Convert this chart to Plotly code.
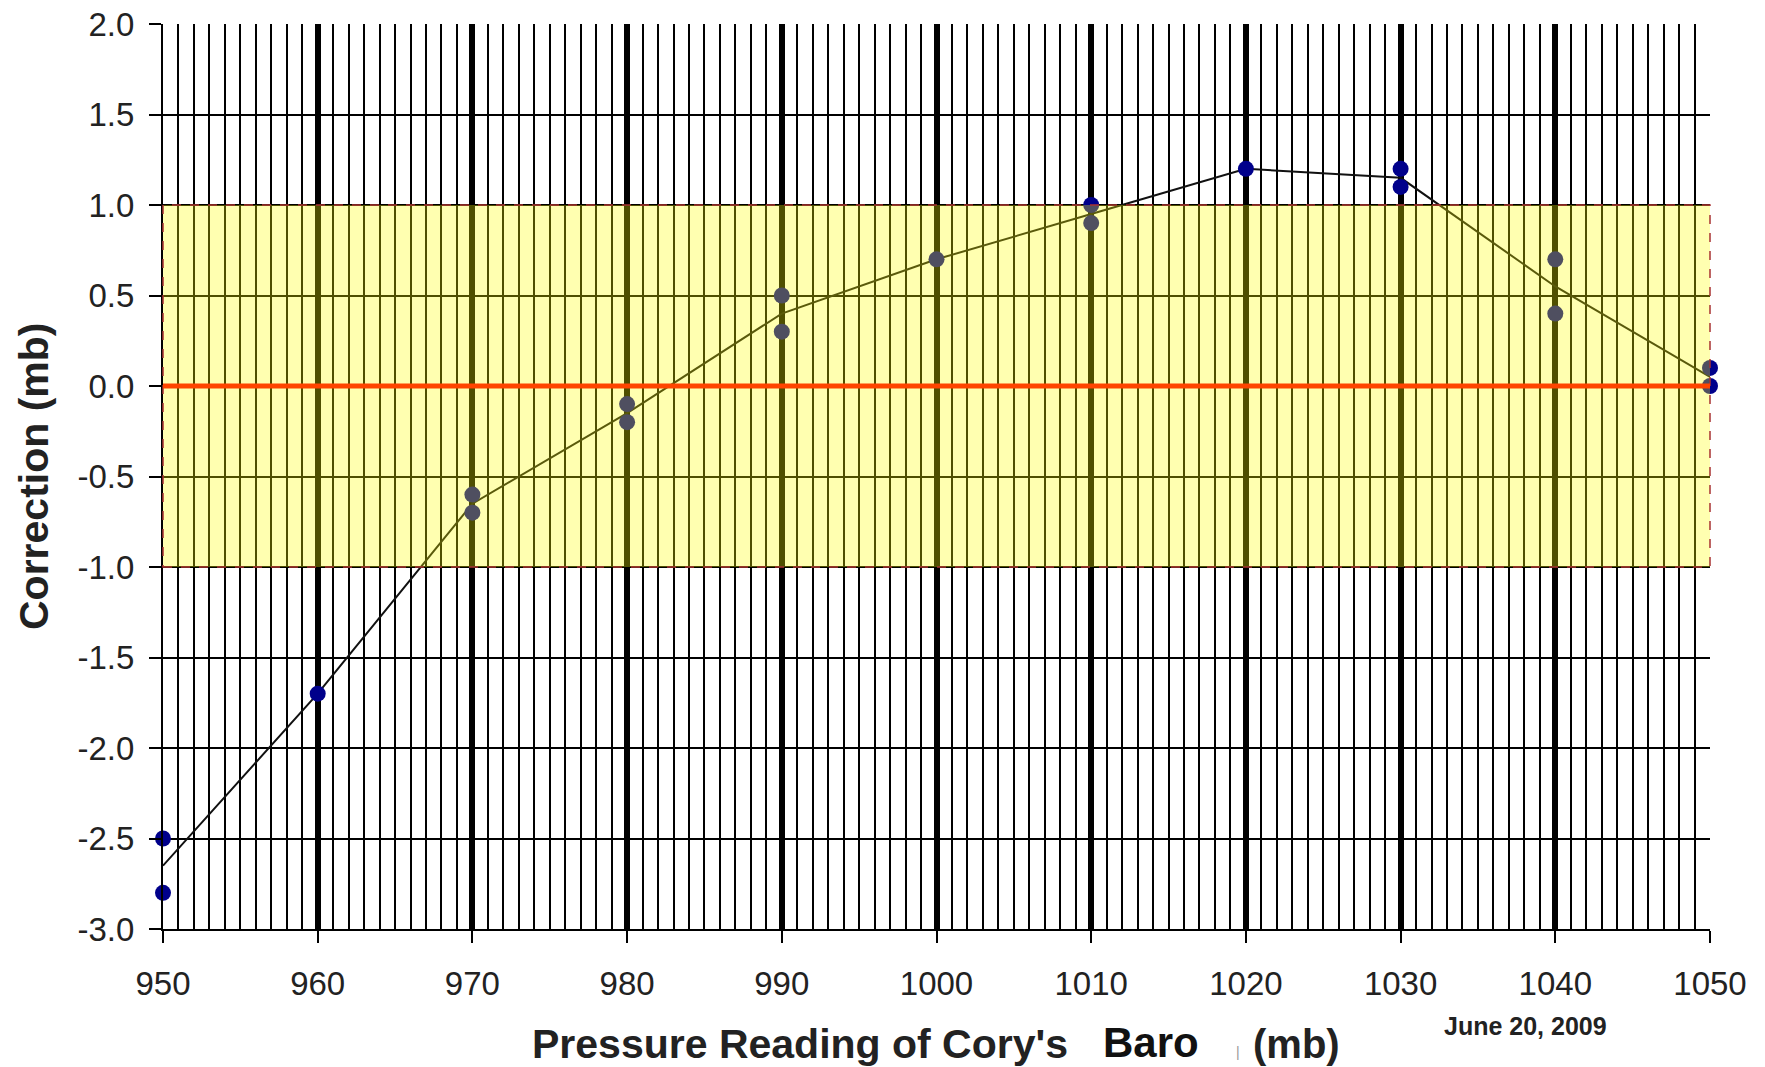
import plotly.graph_objects as go

# Data
pressure_pts = [950, 950, 960, 970, 970, 980, 980, 990, 990, 1000, 1010, 1010,
                1020, 1030, 1030, 1040, 1040, 1050, 1050]
correction_pts = [-2.5, -2.8, -1.7, -0.6, -0.7, -0.1, -0.2, 0.5, 0.3, 0.7, 1.0, 0.9,
                  1.2, 1.2, 1.1, 0.7, 0.4, 0.1, 0.0]

pressure_line = [950, 960, 970, 980, 990, 1000, 1010, 1020, 1030, 1040, 1050]
correction_line = [-2.65, -1.7, -0.65, -0.15, 0.4, 0.7, 0.95, 1.2, 1.15, 0.55, 0.05]

x_ticks = list(range(950, 1051, 10))
y_ticks = [-3.0, -2.5, -2.0, -1.5, -1.0, -0.5, 0.0, 0.5, 1.0, 1.5, 2.0]
y_ticktext = ["%.1f" % v for v in y_ticks]
band_low, band_high = -1.0, 1.0

FONT = "Liberation Sans, Arial, sans-serif"

# page is offset by the default 8px body margin
OFF = 8
W, H = 1765 - 2 * OFF, 1067 - OFF
# plot area in page pixels
PL, PR, PT, PB = 163, 1710, 24, 929
L, T = PL - OFF, PT - OFF
R = W - (PR - OFF)
B = H - (PB - OFF)
PW = PR - PL
PH = PB - PT


def px_x(px):
    return (px - PL) / PW


def px_y(py):
    return (PB - py) / PH


fig = go.Figure()
fig.add_trace(go.Scatter(x=pressure_line, y=correction_line, mode="lines",
                         line=dict(color="#111111", width=2),
                         hoverinfo="skip", showlegend=False, cliponaxis=False))
fig.add_trace(go.Scatter(x=pressure_pts, y=correction_pts, mode="markers",
                         marker=dict(color="#00008B", size=16, symbol="circle"),
                         showlegend=False, cliponaxis=False))

# tolerance band (semi-transparent, above grid and data)
fig.add_shape(type="rect", xref="paper", yref="y", x0=0, x1=1, y0=band_low, y1=band_high,
              fillcolor="rgba(255,255,0,0.31)", layer="above",
              line=dict(color="#a83232", width=1.5, dash="dash"))
# zero reference line
fig.add_shape(type="line", xref="paper", yref="y", x0=0, x1=1, y0=0, y1=0,
              layer="above", line=dict(color="#FF4500", width=5))

fig.update_layout(
    width=W, height=H,
    margin=dict(l=L, r=R, t=T, b=B),
    paper_bgcolor="white", plot_bgcolor="white",
    font=dict(family=FONT, color="#222222"),
    showlegend=False,
)
fig.update_xaxes(
    range=[950, 1050], tickvals=x_ticks, ticktext=[str(v) for v in x_ticks],
    showgrid=True, gridcolor="black", gridwidth=6,
    minor=dict(dtick=1, showgrid=True, gridcolor="black", gridwidth=2),
    showline=True, linecolor="black", linewidth=2,
    ticks="outside", ticklen=12, tickwidth=2, tickcolor="black",
    ticklabelstandoff=12, ticklabeloverflow="allow",
    tickfont=dict(size=33, family=FONT, color="#222222"),
    zeroline=False, automargin=False,
)
fig.update_yaxes(
    range=[-3, 2], tickvals=y_ticks, ticktext=y_ticktext,
    showgrid=True, gridcolor="black", gridwidth=2,
    showline=True, linecolor="black", linewidth=2,
    ticks="outside", ticklen=12, tickwidth=2, tickcolor="black",
    ticklabelstandoff=8, ticklabeloverflow="allow",
    tickfont=dict(size=33, family=FONT, color="#222222"),
    zeroline=False, automargin=False,
)

# y-axis title
fig.add_annotation(text="<b>Correction (mb)</b>", xref="paper", yref="paper",
                   x=px_x(34), y=px_y(476), xanchor="center", yanchor="middle", textangle=-90,
                   showarrow=False, font=dict(size=41, family=FONT, color="#222222"))

# x-axis title pieces
fig.add_annotation(text="<b>Pressure Reading of Cory's</b>", xref="paper", yref="paper",
                   x=px_x(800), y=px_y(1044), xanchor="center", yanchor="middle",
                   showarrow=False, font=dict(size=41, family=FONT, color="#222222"))
fig.add_annotation(text="<b>Baro</b>", xref="paper", yref="paper",
                   x=px_x(1151), y=px_y(1042), xanchor="center", yanchor="middle",
                   showarrow=False, font=dict(size=42, family=FONT, color="#111111"))
fig.add_annotation(text="|", xref="paper", yref="paper",
                   x=px_x(1238), y=px_y(1052), xanchor="center", yanchor="middle",
                   showarrow=False, font=dict(size=14, family=FONT, color="#999999"))
fig.add_annotation(text="<b>(mb)</b>", xref="paper", yref="paper",
                   x=px_x(1296), y=px_y(1044), xanchor="center", yanchor="middle",
                   showarrow=False, font=dict(size=40, family=FONT, color="#222222"))
fig.add_annotation(text="<b>June 20, 2009</b>", xref="paper", yref="paper",
                   x=px_x(1525), y=px_y(1026), xanchor="center", yanchor="middle",
                   showarrow=False, font=dict(size=25, family=FONT, color="#222222"))

fig.write_html("out.html")
